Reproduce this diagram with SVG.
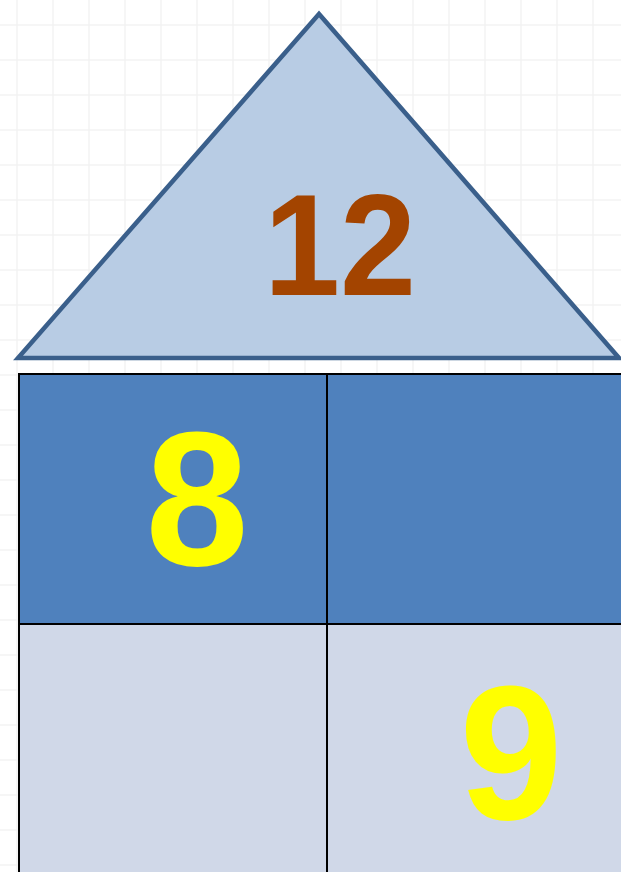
<svg xmlns="http://www.w3.org/2000/svg" width="621" height="872" viewBox="0 0 621 872">
  <defs>
    <pattern id="grid" x="0" y="0" width="36" height="35" patternUnits="userSpaceOnUse">
      <path d="M17 0V35M0 25H36" stroke="#f3f3f3" stroke-width="1.5" fill="none"/>
    </pattern>
    <style>
      .num { font-family: "Liberation Sans", Arial, sans-serif; font-weight: bold; text-anchor: middle; }
      .cell { stroke: #000000; stroke-width: 2; }
    </style>
  </defs>
  <rect width="621" height="872" fill="#ffffff"/>
  <rect width="621" height="872" fill="url(#grid)"/>
  <g id="roof">
    <polygon points="319,14 18,358 619,358" fill="#b8cce4" stroke="#3a5f8b" stroke-width="4.5" stroke-linejoin="miter"/>
    <text class="num" transform="translate(340,0) scale(0.95,1)" x="0" y="295" font-size="144" fill="#a34400">12</text>
  </g>
  <g id="cell-top-left">
    <rect class="cell" x="19" y="374" width="308" height="250" fill="#4f81bd"/>
    <text class="num" transform="translate(197,0) scale(0.965,1)" x="0" y="565" font-size="192" fill="#ffff00">8</text>
  </g>
  <g id="cell-top-right">
    <rect class="cell" x="327" y="374" width="300" height="250" fill="#4f81bd"/>
  </g>
  <g id="cell-bottom-left">
    <rect class="cell" x="19" y="624" width="308" height="260" fill="#d0d8e8"/>
  </g>
  <g id="cell-bottom-right">
    <rect class="cell" x="327" y="624" width="300" height="260" fill="#d0d8e8"/>
    <text class="num" transform="translate(511,0) scale(0.965,1)" x="0" y="819" font-size="192" fill="#ffff00">9</text>
  </g>
  <g id="connectors"/>
</svg>
